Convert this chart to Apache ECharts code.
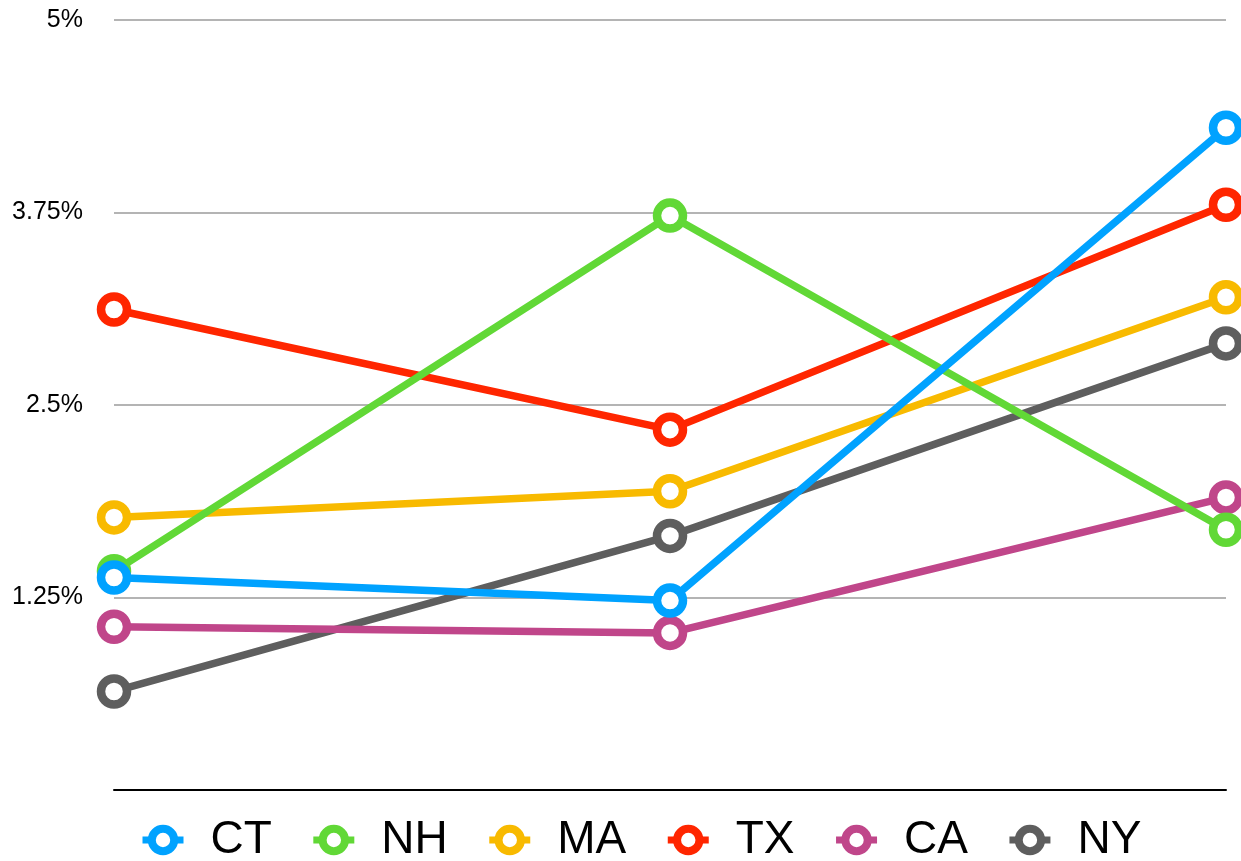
<!DOCTYPE html>
<html><head><meta charset="utf-8">
<script src="https://cdn.jsdelivr.net/npm/echarts@6/dist/echarts.min.js"></script>
<style>html,body{margin:0;padding:0;background:#fff}#c{width:1241px;height:861px}</style>
</head><body><div id="c"></div>
<script>
var categories = ['A', 'B', 'C'];
var seriesNames = ['CT', 'NH', 'MA', 'TX', 'CA', 'NY'];
var CT = [1.38, 1.23, 4.30];
var NH = [1.42, 3.73, 1.69];
var MA = [1.77, 1.94, 3.20];
var TX = [3.12, 2.34, 3.80];
var CA = [1.06, 1.02, 1.90];
var NY = [0.64, 1.65, 2.90];
var yTicks = [0, 1.25, 2.5, 3.75, 5];
var colors = ['#00a2ff', '#61d836', '#f8ba00', '#ff2600', '#c0468a', '#5e5e5e'];

var values = [CT, NH, MA, TX, CA, NY];
var chart = echarts.init(document.getElementById('c'));
var series = seriesNames.map(function (n, i) {
  return {
    name: n, type: 'line', data: values[i],
    z: 10 - i,
    symbol: 'circle', symbolSize: 26,
    lineStyle: { width: 7.5, color: colors[i] },
    itemStyle: { color: '#fff', borderColor: colors[i], borderWidth: 8.5 },
    emphasis: { disabled: true }
  };
});
chart.setOption({
  animation: false,
  color: colors,
  textStyle: { fontFamily: 'Liberation Sans, Arial, sans-serif' },
  grid: { left: 114, right: 15, top: 20, bottom: 71, containLabel: false },
  legend: {
    data: seriesNames,
    left: 134, top: 812,
    itemWidth: 41, itemHeight: 28, itemGap: 38,
    itemStyle: { borderWidth: 8, color: '#fff' },
    lineStyle: { width: 7 },
    textStyle: { fontSize: 46, color: '#000', padding: [0, 0, 0, 22], fontFamily: 'Liberation Sans, Arial, sans-serif' }
  },
  xAxis: {
    type: 'category', data: categories, boundaryGap: false,
    axisLine: { lineStyle: { color: '#000', width: 2 } },
    axisTick: { show: false }, axisLabel: { show: false }, splitLine: { show: false }
  },
  yAxis: {
    type: 'value', min: yTicks[0], max: yTicks[yTicks.length - 1], interval: 1.25,
    axisLine: { show: false }, axisTick: { show: false },
    axisLabel: {
      margin: 31, fontSize: 25, color: '#000',
      formatter: function (v) { return v === 0 ? '' : v + '%'; }
    },
    splitLine: { lineStyle: { color: '#b4b4b4', width: 2 } }
  },
  series: series
});
</script></body></html>
